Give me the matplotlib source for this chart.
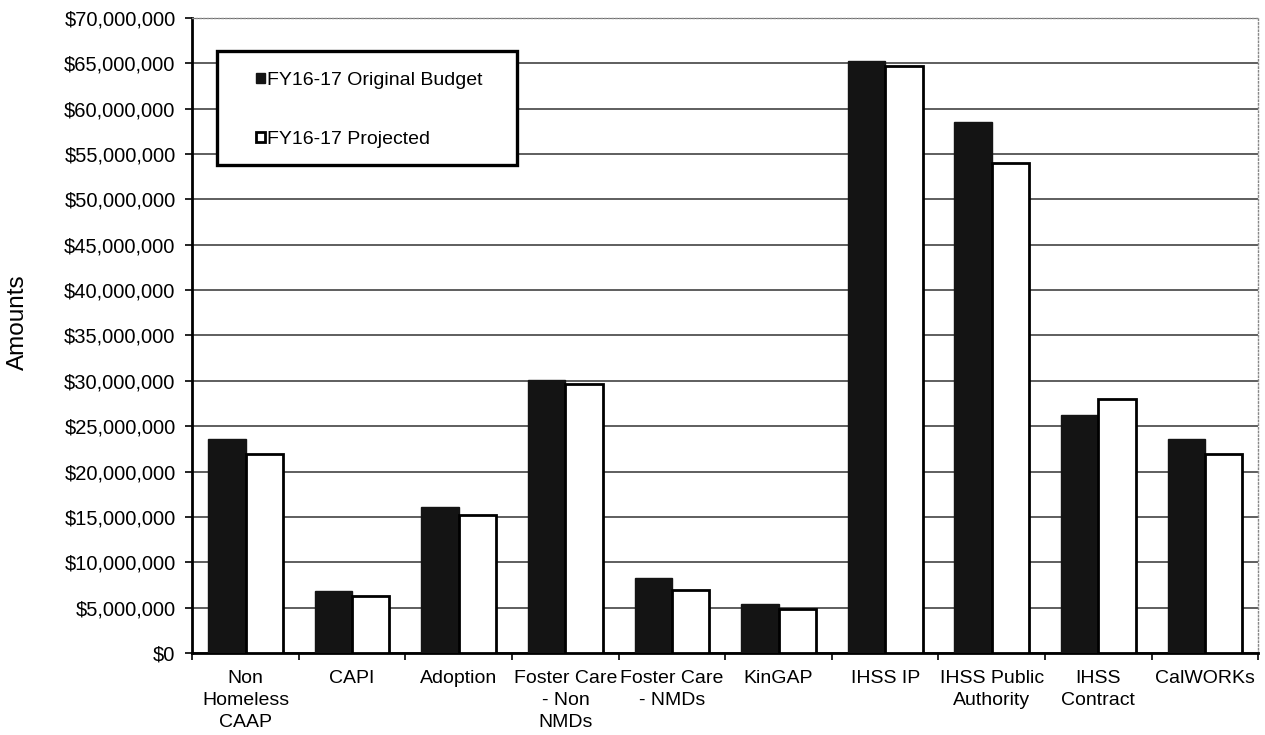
import matplotlib
matplotlib.use("Agg")
import matplotlib.pyplot as plt
import numpy as np
from matplotlib.patches import Rectangle
from matplotlib.ticker import FuncFormatter, MultipleLocator

plt.rcParams['font.family'] = ['Liberation Sans', 'DejaVu Sans']

categories = ["Non\nHomeless\nCAAP", "CAPI", "Adoption", "Foster Care\n- Non\nNMDs",
              "Foster Care\n- NMDs", "KinGAP", "IHSS IP", "IHSS Public\nAuthority",
              "IHSS\nContract", "CalWORKs"]
original_budget = [23.6e6, 6.8e6, 16.1e6, 30.1e6, 8.3e6, 5.4e6, 65.3e6, 58.5e6, 26.2e6, 23.6e6]
projected = [21.9e6, 6.3e6, 15.2e6, 29.6e6, 6.9e6, 4.85e6, 64.7e6, 54.0e6, 28.0e6, 21.9e6]
series_names = ["FY16-17 Original Budget", "FY16-17 Projected"]

fig = plt.figure(figsize=(12.65, 7.35), dpi=100)
ax = fig.add_axes([0.152, 0.1116, 0.8427, 0.864])

x = np.arange(len(categories))
w = 0.35
ax.bar(x - w/2, original_budget, w, color="#141414", edgecolor="#141414", linewidth=1,
       label=series_names[0], zorder=3)
ax.bar(x + w/2, projected, w, color="white", edgecolor="black", linewidth=2,
       label=series_names[1], zorder=3)

ax.set_xlim(-0.5, len(categories) - 0.5)
ax.set_ylim(0, 70e6)
ax.yaxis.set_major_locator(MultipleLocator(5e6))
ax.yaxis.set_major_formatter(FuncFormatter(lambda v, p: "${:,.0f}".format(v)))
ax.grid(axis="y", color="#333333", linewidth=1.1, zorder=0)

ax.set_xticks(x)
ax.set_xticklabels(categories, fontsize=14, va="top", linespacing=1.4)
ax.tick_params(axis="x", which="major", length=0, pad=12)
ax.set_xticks(np.arange(len(categories) + 1) - 0.5, minor=True)
ax.tick_params(axis="x", which="minor", length=5, width=1.2, direction="out")
ax.tick_params(axis="y", length=5, width=1.2, labelsize=14.5, pad=7)

for s in ["left", "bottom"]:
    ax.spines[s].set_linewidth(2)
    ax.spines[s].set_color("black")
for s in ["top", "right"]:
    ax.spines[s].set_linestyle(":")
    ax.spines[s].set_color("#888888")
    ax.spines[s].set_linewidth(1)

fig.text(18/1265, 1 - 322/735, "Amounts", rotation=90, fontsize=17.5, ha="center", va="center")

# legend box drawn by hand, entries placed inside it
box = Rectangle((217/1265, 1 - 165/735), 300/1265, 114/735, transform=fig.transFigure,
                facecolor="white", edgecolor="black", linewidth=2.4, zorder=4, clip_on=False)
fig.patches.append(box)

leg = fig.legend(loc="upper left", bbox_to_anchor=(256/1265, 1 - 72/735), fontsize=14,
                 frameon=False, handlelength=0.45, handleheight=0.45, handletextpad=0.1,
                 labelspacing=2.15, borderpad=0, borderaxespad=0)
leg.set_zorder(5)

fig.savefig("out.png", dpi=100)
